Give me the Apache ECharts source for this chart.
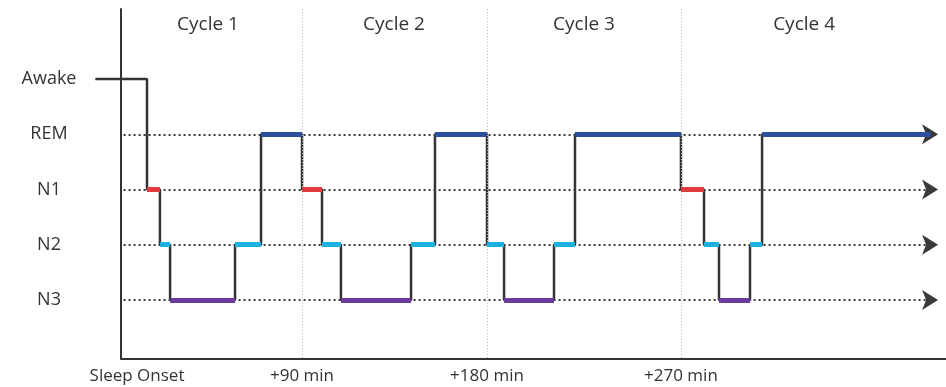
<!DOCTYPE html>
<html>
<head>
<meta charset="utf-8">
<script src="https://cdn.jsdelivr.net/npm/echarts@6/dist/echarts.min.js"></script>
<style>
html,body{margin:0;padding:0;background:#fff;}
#chart{width:946px;height:387px;}
</style>
</head>
<body>
<div id="chart"></div>
<script>
// ---- Data (time in minutes after sleep onset) ----
const stageNames = ['N3', 'N2', 'N1', 'REM', 'Awake'];
const stageLevels = [0, 1, 2, 3, 4];
const stageColors = { N1: '#e23b3f', N2: '#1bb2e2', N3: '#6c3b9b', REM: '#2b4f9e' };

const epochStart = [-30, 0, 7.5, 13.4, 51.1, 66.2, 90, 101.6, 112.6, 153.3, 167.2,
                    197.4, 207.3, 236.3, 248.5, 310, 323.4, 332.1, 350.1, 357.1];
const epochStage = ['Awake', 'N1', 'N2', 'N3', 'N2', 'REM', 'N1', 'N2', 'N3', 'N2', 'REM',
                    'N2', 'N3', 'N2', 'REM', 'N1', 'N2', 'N3', 'N2', 'REM'];
const recordEnd = 455;

const cycleBoundaries = [90, 197.4, 310];
const cycleCenters = [35.4, 143.4, 253.7, 381.5];
const cycleLabels = ['Cycle 1', 'Cycle 2', 'Cycle 3', 'Cycle 4'];

const timeTickValues = [0, 90, 197.4, 310];
const timeTickLabels = ['Sleep Onset', '+90 min', '+180 min', '+270 min'];

const xMin = -30.2, xMax = 463.9, yAxisAt = -15.1, arrowAt = 459.3;
const yMin = -1.07, yMax = 5.27;

// ---- Build series from data ----
const levelOf = s => stageLevels[stageNames.indexOf(s)];
const stepPoints = [];
const segs = { N1: [], N2: [], N3: [], REM: [] };
epochStart.forEach((t, i) => {
  const end = i + 1 < epochStart.length ? epochStart[i + 1] : recordEnd;
  const lv = levelOf(epochStage[i]);
  stepPoints.push([t, lv], [end, lv]);
  if (segs[epochStage[i]]) segs[epochStage[i]].push({ coords: [[t, lv], [end, lv]] });
});

const font = '"Open Sans", "Noto Sans", sans-serif';
const txt = '#333';
const chart = echarts.init(document.getElementById('chart'));

const colorSeries = Object.keys(segs).map(k => ({
  type: 'lines',
  coordinateSystem: 'cartesian2d',
  polyline: false,
  silent: true,
  z: 5,
  lineStyle: { color: stageColors[k], width: 5, opacity: 1, cap: 'butt' },
  data: segs[k]
}));

chart.setOption({
  animation: false,
  grid: { left: 95, right: 0, top: 9, bottom: 28 },
  xAxis: [{
    type: 'value', min: xMin, max: xMax,
    axisLine: { show: false },
    axisTick: { show: false },
    splitLine: { show: false },
    axisLabel: {
      customValues: timeTickValues,
      margin: 9,
      color: txt,
      fontSize: 17,
      fontFamily: font,
      formatter: v => {
        const i = timeTickValues.indexOf(v);
        return i === 0 ? '{a|' + timeTickLabels[0] + '}' : (i >= 0 ? timeTickLabels[i] : '');
      },
      rich: { a: { fontSize: 17, fontFamily: font, color: txt, padding: [0, 20, 0, 0] } }
    }
  }, {
    type: 'value', min: xMin, max: xMax, position: 'top',
    axisLine: { show: false }, axisTick: { show: false }, splitLine: { show: false },
    axisLabel: {
      inside: true,
      customValues: cycleCenters,
      margin: 6,
      color: txt,
      fontSize: 19,
      fontFamily: font,
      formatter: v => { const i = cycleCenters.indexOf(v); return i >= 0 ? cycleLabels[i] : ''; }
    }
  }],
  yAxis: {
    type: 'value', min: yMin, max: yMax,
    offset: -26,
    axisLine: { show: true, onZero: false, lineStyle: { color: '#333', width: 2 } },
    axisTick: { show: false },
    splitLine: { show: false },
    axisLabel: {
      customValues: stageLevels,
      align: 'center',
      margin: 72,
      color: txt,
      fontSize: 18,
      fontFamily: font,
      formatter: v => { const i = stageLevels.indexOf(v); return i >= 0 ? stageNames[i] : ''; }
    }
  },
  series: [{
    type: 'line',
    data: [],
    z: 1,
    silent: true,
    markLine: {
      silent: true,
      animation: false,
      label: { show: false },
      emphasis: { disabled: true },
      itemStyle: { color: '#2a2a2a' },
      data: [
        ...stageLevels.slice(0, 4).map(lv => [
          { coord: [yAxisAt + 1.5, lv], symbol: 'none', lineStyle: { color: '#3a3a3a', width: 2, type: [2, 3] } },
          { coord: [arrowAt, lv], symbol: 'arrow', symbolSize: [15, 16] }
        ]),
        ...cycleBoundaries.map(x => [
          { coord: [x, yMax], symbol: 'none', lineStyle: { color: '#bdbdbd', width: 1, type: [1, 2] } },
          { coord: [x, yMin], symbol: 'none' }
        ]),
        [
          { coord: [yAxisAt, yMin], symbol: 'none', lineStyle: { color: '#333', width: 2, type: 'solid' } },
          { coord: [xMax, yMin], symbol: 'none' }
        ]
      ]
    }
  }, {
    type: 'line',
    data: stepPoints,
    symbol: 'none',
    silent: true,
    z: 3,
    lineStyle: { color: '#333', width: 2.5 }
  }, ...colorSeries]
});
</script>
</body>
</html>
